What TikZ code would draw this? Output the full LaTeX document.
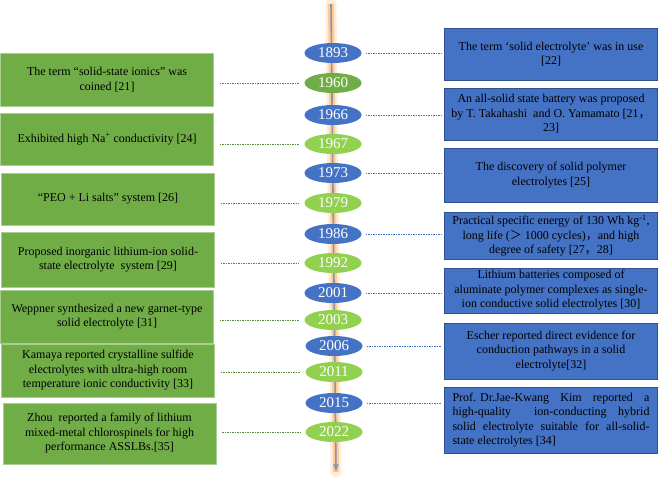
\documentclass[tikz,border=0pt]{standalone}
\usepackage{fontspec}
\setmainfont{Liberation Serif}
\newfontfamily\cjk{Noto Sans CJK SC}
\usetikzlibrary{shapes.geometric}
\definecolor{yblue}{HTML}{4472C4}
\definecolor{ygreen}{HTML}{70AD47}
\definecolor{ylight}{HTML}{92D050}
\definecolor{bedge}{HTML}{2F528F}
\definecolor{axisgray}{HTML}{8497B0}
\newcommand{\jline}[1]{\makebox[197pt][s]{#1}}
\newcommand{\fw}[1]{{\cjk #1}}

\begin{document}
\begin{tikzpicture}[x=1pt, y=-1pt]
		\tikzstyle{every node}=[inner sep=1pt, align=center, font=\fontsize{12}{14.5}\selectfont]
		\tikzstyle{year}=[ellipse, minimum width=57pt, minimum height=20pt, inner sep=0pt, text=white, font=\fontsize{15}{15}\selectfont]
		\tikzstyle{lbox}=[rectangle, fill=ygreen, draw=ygreen!60!white, minimum width=213pt]
		\tikzstyle{rbox}=[rectangle, fill=yblue, draw=bedge, minimum width=213pt]
		\tikzstyle{ldash}=[ygreen!80!black, line width=0.7pt, dash pattern=on 1.5pt off 1pt, shorten <=6pt, shorten >=5pt]
		\tikzstyle{rdash}=[yblue, line width=0.7pt, dash pattern=on 1.5pt off 1pt, shorten <=4pt, shorten >=3pt]
		\useasboundingbox (0, 0) rectangle (660, 482);
		% time axis
		\coordinate (top) at (331, 4);
		\coordinate (bot) at (336, 472);
		\draw [line width=11pt, orange!15, line cap=round] (top) -- (bot);
		\draw [line width=6pt, orange!40] (top) -- (bot);
		\draw [line width=1.6pt, axisgray, -latex] (top) -- (bot);
		% years
		\node [year, fill=yblue] (y1893) at (333, 53) {1893};
		\node [year, fill=ygreen] (y1960) at (333, 83) {1960};
		\node [year, fill=yblue] (y1966) at (333, 115) {1966};
		\node [year, fill=ylight] (y1967) at (333, 144) {1967};
		\node [year, fill=yblue] (y1973) at (333, 173) {1973};
		\node [year, fill=ylight] (y1979) at (333, 203) {1979};
		\node [year, fill=yblue] (y1986) at (333, 234) {1986};
		\node [year, fill=ylight] (y1992) at (333, 263) {1992};
		\node [year, fill=yblue] (y2001) at (333, 293) {2001};
		\node [year, fill=ylight] (y2003) at (333, 320) {2003};
		\node [year, fill=yblue] (y2006) at (334, 346) {2006};
		\node [year, fill=ylight] (y2011) at (334, 372) {2011};
		\node [year, fill=yblue] (y2015) at (334, 403) {2015};
		\node [year, fill=ylight] (y2022) at (334, 432) {2022};
		% left boxes
		\node [lbox, minimum height=53pt] (l1960) at (107, 79.5) {The term “solid-state ionics” was\\coined [21]};
		\node [lbox, minimum height=52pt] (l1967) at (107, 139) {Exhibited high Na\textsuperscript{+} conductivity [24]};
		\node [lbox, minimum height=52pt] (l1979) at (108, 199) {“PEO + Li salts” system [26]};
		\node [lbox, minimum height=55pt] (l1992) at (108, 259.5) {Proposed inorganic lithium-ion solid-\\state electrolyte\ \ system [29]};
		\node [lbox, minimum height=53pt] (l2003) at (107, 316.5) {Weppner synthesized a new garnet-type\\solid electrolyte [31]};
		\node [lbox, minimum height=53pt] (l2011) at (108, 370.5) {Kamaya reported crystalline sulfide\\electrolytes with ultra-high room\\temperature ionic conductivity [33]};
		\node [lbox, minimum height=61pt] (l2022) at (109.5, 433.5) {Zhou\ \ reported a family of lithium\\mixed-metal chlorospinels for high\\performance ASSLBs.[35]};
		% right boxes
		\node [rbox, minimum height=52pt] (r1893) at (551, 54) {The term ‘solid electrolyte’ was in use\\{[22]}};
		\node [rbox, minimum height=52pt] (r1966) at (551, 114) {An all-solid state battery was proposed\\by T. Takahashi\ \ and O. Yamamato [21\fw{，}\\23]};
		\node [rbox, minimum height=54pt] (r1973) at (551, 175) {The discovery of solid polymer\\electrolytes [25]};
		\node [rbox, minimum height=47pt] (r1986) at (551, 235.5) {Practical specific energy of 130 Wh kg\textsuperscript{-1},\\long life (\fw{＞} 1000 cycles)\fw{，}and high\\degree of safety [27\fw{，}28]};
		\node [rbox, minimum height=45pt] (r2001) at (551, 290.5) {Lithium batteries composed of\\aluminate polymer complexes as single-\\ion conductive solid electrolytes [30]};
		\node [rbox, minimum height=56pt] (r2006) at (551, 351) {Escher reported direct evidence for\\conduction pathways in a solid\\electrolyte[32]};
		\node [rbox, minimum height=66pt, align=left] (r2015) at (551, 420) {\jline{\mbox{Prof. Dr.Jae-Kwang} Kim reported a}\\\jline{high-quality \ ion-conducting hybrid}\\\jline{solid electrolyte suitable for all-solid-}\\state electrolytes [34]};
		% connectors
		\draw [ldash] (l1960.east |- y1960) -- (y1960.west);
		\draw [ldash] (l1967.east |- y1967) -- (y1967.west);
		\draw [ldash] (l1979.east |- y1979) -- (y1979.west);
		\draw [ldash] (l1992.east |- y1992) -- (y1992.west);
		\draw [ldash] (l2003.east |- y2003) -- (y2003.west);
		\draw [ldash] (l2011.east |- y2011) -- (y2011.west);
		\draw [ldash] (l2022.east |- y2022) -- (y2022.west);
		\draw [rdash] (y1893.east) -- (r1893.west |- y1893);
		\draw [rdash] (y1966.east) -- (r1966.west |- y1966);
		\draw [rdash] (y1973.east) -- (r1973.west |- y1973);
		\draw [rdash] (y1986.east) -- (r1986.west |- y1986);
		\draw [rdash] (y2001.east) -- (r2001.west |- y2001);
		\draw [rdash] (y2006.east) -- (r2006.west |- y2006);
		\draw [rdash] (y2015.east) -- (r2015.west |- y2015);
\end{tikzpicture}
\end{document}
